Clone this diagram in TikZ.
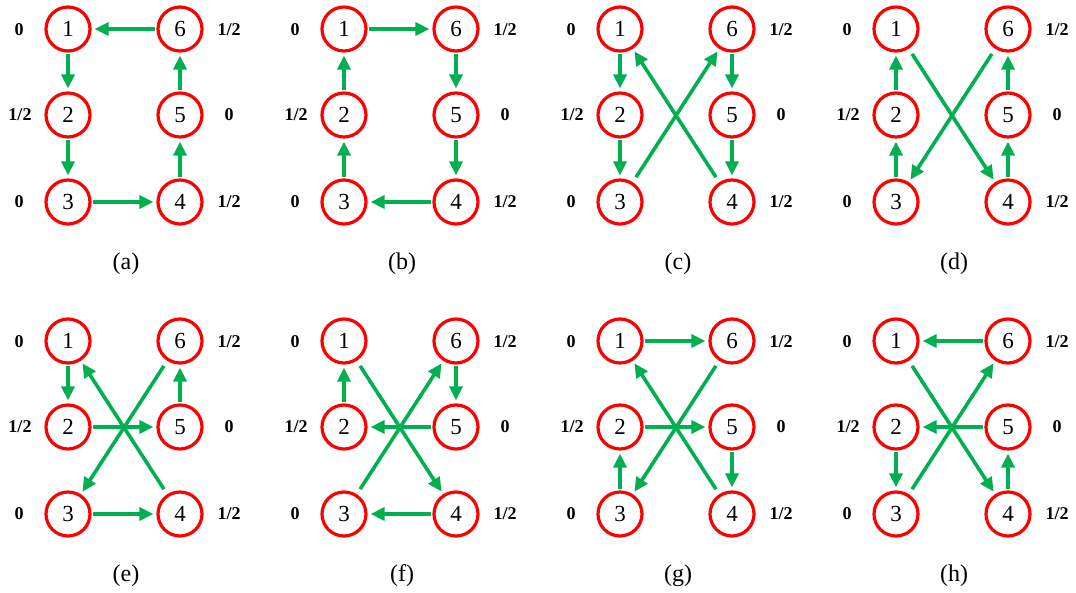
\documentclass[tikz,border=0pt]{standalone}
\usepackage{fontspec}
\setmainfont{Liberation Serif}
\usetikzlibrary{arrows.meta}

\definecolor{nodered}{RGB}{255,0,0}
\definecolor{arrowgreen}{RGB}{0,176,80}

\tikzset{
  vtx/.style={circle, draw=nodered, line width=3.2pt, minimum size=44pt,
              inner sep=0pt, font=\fontsize{23}{23}\selectfont},
  weight/.style={font=\bfseries\fontsize{18}{18}\selectfont, inner sep=0pt},
  caption/.style={font=\fontsize{24}{24}\selectfont, inner sep=0pt},
  arr/.style={draw=arrowgreen, line width=3.6pt,
              -{Triangle[length=14pt,width=13pt]},
              shorten >=3pt, shorten <=1pt},
  diag/.style={arr, shorten <=6pt},
}

% one panel: six vertices with their weights and the caption
% #1 name prefix, #2 x of left column, #3 y of top row, #4 caption
\newcommand\graphpanel[4]{%
  \begin{scope}[shift={(#2,#3)}]
    \node[vtx] (#1-1) at (0,0)     {1};
    \node[vtx] (#1-6) at (112,0)   {6};
    \node[vtx] (#1-2) at (0,86)    {2};
    \node[vtx] (#1-5) at (112,86)  {5};
    \node[vtx] (#1-3) at (0,173)   {3};
    \node[vtx] (#1-4) at (112,173) {4};
    \node[weight] (#1-w1) at (-49,1)   {0};
    \node[weight] (#1-w6) at (161,1)   {1/2};
    \node[weight] (#1-w2) at (-48,86)  {1/2};
    \node[weight] (#1-w5) at (161,86)  {0};
    \node[weight] (#1-w3) at (-49,173) {0};
    \node[weight] (#1-w4) at (161,173) {1/2};
    \node[caption] (#1-cap) at (58,235) {#4};
  \end{scope}}

\begin{document}
\begin{tikzpicture}[x=1pt, y=-1pt]
  \useasboundingbox (0,0) rectangle (1076,593);

  \graphpanel{a}{68}{29}{(a)}
  \graphpanel{b}{344}{29}{(b)}
  \graphpanel{c}{620}{29}{(c)}
  \graphpanel{d}{896}{29}{(d)}
  \graphpanel{e}{68}{341}{(e)}
  \graphpanel{f}{344}{341}{(f)}
  \graphpanel{g}{620}{341}{(g)}
  \graphpanel{h}{896}{341}{(h)}

  % (a)
  \draw[arr] (a-6) -- (a-1);
  \draw[arr] (a-1) -- (a-2);
  \draw[arr] (a-2) -- (a-3);
  \draw[arr] (a-3) -- (a-4);
  \draw[arr] (a-4) -- (a-5);
  \draw[arr] (a-5) -- (a-6);

  % (b)
  \draw[arr] (b-1) -- (b-6);
  \draw[arr] (b-6) -- (b-5);
  \draw[arr] (b-5) -- (b-4);
  \draw[arr] (b-4) -- (b-3);
  \draw[arr] (b-3) -- (b-2);
  \draw[arr] (b-2) -- (b-1);

  % (c)
  \draw[arr]  (c-1) -- (c-2);
  \draw[arr]  (c-2) -- (c-3);
  \draw[diag] (c-3) -- (c-6);
  \draw[arr]  (c-6) -- (c-5);
  \draw[arr]  (c-5) -- (c-4);
  \draw[diag] (c-4) -- (c-1);

  % (d)
  \draw[arr]  (d-2) -- (d-1);
  \draw[arr]  (d-3) -- (d-2);
  \draw[diag] (d-1) -- (d-4);
  \draw[diag] (d-6) -- (d-3);
  \draw[arr]  (d-5) -- (d-6);
  \draw[arr]  (d-4) -- (d-5);

  % (e)
  \draw[arr]  (e-1) -- (e-2);
  \draw[arr]  (e-2) -- (e-5);
  \draw[arr]  (e-5) -- (e-6);
  \draw[diag] (e-6) -- (e-3);
  \draw[arr]  (e-3) -- (e-4);
  \draw[diag] (e-4) -- (e-1);

  % (f)
  \draw[arr]  (f-2) -- (f-1);
  \draw[arr]  (f-6) -- (f-5);
  \draw[arr]  (f-5) -- (f-2);
  \draw[diag] (f-1) -- (f-4);
  \draw[diag] (f-3) -- (f-6);
  \draw[arr]  (f-4) -- (f-3);

  % (g)
  \draw[arr]  (g-1) -- (g-6);
  \draw[arr]  (g-2) -- (g-5);
  \draw[arr]  (g-3) -- (g-2);
  \draw[arr]  (g-5) -- (g-4);
  \draw[diag] (g-6) -- (g-3);
  \draw[diag] (g-4) -- (g-1);

  % (h)
  \draw[arr]  (h-6) -- (h-1);
  \draw[arr]  (h-5) -- (h-2);
  \draw[arr]  (h-2) -- (h-3);
  \draw[arr]  (h-4) -- (h-5);
  \draw[diag] (h-1) -- (h-4);
  \draw[diag] (h-3) -- (h-6);
\end{tikzpicture}
\end{document}
